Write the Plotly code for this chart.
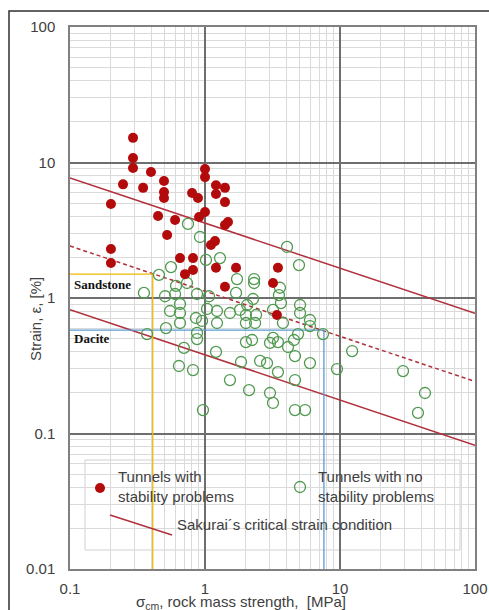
import plotly.graph_objects as go

# ---------------- data ----------------
red_x = [0.293, 0.293, 0.293, 0.398, 0.247, 0.348, 0.497, 0.497, 0.497, 0.201,
         0.802, 0.887, 1.0, 1.0, 1.206, 1.406, 1.206, 1.406, 0.449, 0.600,
         0.904, 1.0, 1.48, 1.406, 0.524, 1.107, 1.186, 0.201, 0.201, 0.653,
         0.815, 0.815, 0.711, 1.206, 1.698, 1.406, 3.47, 3.19, 3.41]
red_y = [15.2, 10.8, 9.1, 8.5, 6.9, 6.5, 7.3, 6.06, 5.47, 4.94,
         5.96, 5.47, 8.95, 7.8, 6.8, 6.5, 5.86, 5.1, 4.03, 3.76,
         3.96, 4.31, 3.64, 3.46, 2.92, 2.46, 2.63, 2.30, 1.81, 1.97,
         1.97, 1.61, 1.50, 1.67, 1.67, 1.21, 1.67, 1.29, 0.75]

green_x = [0.748, 0.918, 1.017, 1.291, 0.560, 0.456, 0.610, 0.600, 0.736, 0.353,
           0.506, 0.873, 1.071, 1.726, 1.698, 0.653, 0.551, 0.653, 0.857, 1.035,
           1.227, 1.531, 1.816, 2.05, 0.653, 0.951, 1.227, 0.514, 0.873, 0.372,
           0.873, 2.01, 0.698, 1.206, 1.849, 0.641, 0.815, 1.531, 4.05, 4.97,
           2.31, 2.31, 3.59, 2.27, 2.01, 2.39, 2.01, 2.35, 3.53, 3.65,
           5.06, 5.06, 3.19, 5.99, 5.99, 3.78, 2.23, 3.19, 3.03, 3.47,
           4.89, 4.56, 4.12, 4.64, 7.48, 12.3, 2.56, 2.88, 5.99, 3.47,
           9.50, 29.3, 2.12, 3.03, 3.19, 4.64, 4.64, 5.51, 0.966, 42.6, 37.8]
green_y = [3.52, 2.82, 1.91, 1.97, 1.69, 1.48, 1.23, 1.07, 1.29, 1.09,
           1.03, 1.07, 1.03, 1.38, 1.09, 0.903, 0.802, 0.775, 0.712, 0.83,
           0.802, 0.775, 0.816, 0.888, 0.654, 0.677, 0.654, 0.600, 0.552, 0.542,
           0.498, 0.473, 0.428, 0.400, 0.337, 0.315, 0.294, 0.248, 2.38, 1.75,
           1.38, 1.29, 1.19, 0.983, 0.749, 0.749, 0.654, 0.654, 1.05, 0.918,
           0.888, 0.775, 0.816, 0.688, 0.621, 0.654, 0.490, 0.507, 0.466, 0.473,
           0.542, 0.490, 0.435, 0.373, 0.542, 0.406, 0.343, 0.331, 0.331, 0.284,
           0.299, 0.289, 0.209, 0.199, 0.168, 0.248, 0.149, 0.149, 0.149, 0.199, 0.142]

# Sakurai critical strain lines (end points)
sak_x = [0.1, 100]
sak_upper = [7.7, 0.77]
sak_mid = [2.42, 0.242]
sak_lower = [0.82, 0.082]

# Sandstone / Dacite guide lines
sand_x = [0.1, 0.41, 0.41]
sand_y = [1.5, 1.5, 0.01]
dac_x = [0.1, 7.6, 7.6]
dac_y = [0.58, 0.58, 0.01]

x_ticks = [0.1, 1, 10, 100]
x_tick_text = ["0.1", "1", "10", "100"]
y_ticks = [0.01, 0.1, 1, 10, 100]
y_tick_text = ["0.01", "0.1", "1", "10", "100"]

minor_x = [m * d for d in [0.1, 1, 10] for m in range(2, 10)]
minor_y = [m * d for d in [0.01, 0.1, 1, 10] for m in range(2, 10)]

# ---------------- figure ----------------
W, H = 489, 610
L, R, T, B = 70, 14, 27, 41
PW, PH = W - L - R, H - T - B

def px(xp):
    return (xp - L) / PW

def py(yp):
    return (H - B - yp) / PH

FONT = "Arial, Liberation Sans, sans-serif"
TXT = "#404040"
LINE_RED = "#b0303c"

fig = go.Figure()

fig.add_trace(go.Scatter(x=sak_x, y=sak_upper, mode="lines",
                         line=dict(color=LINE_RED, width=1.5), showlegend=False))
fig.add_trace(go.Scatter(x=sak_x, y=sak_mid, mode="lines",
                         line=dict(color=LINE_RED, width=1.5, dash="4px,3px"), showlegend=False))
fig.add_trace(go.Scatter(x=sak_x, y=sak_lower, mode="lines",
                         line=dict(color=LINE_RED, width=1.5), showlegend=False))
fig.add_trace(go.Scatter(x=sand_x, y=sand_y, mode="lines",
                         line=dict(color="#f2b705", width=1.3), showlegend=False))
fig.add_trace(go.Scatter(x=dac_x, y=dac_y, mode="lines",
                         line=dict(color="#5b9bd5", width=1.3), showlegend=False))
fig.add_trace(go.Scatter(x=green_x, y=green_y, mode="markers",
                         marker=dict(symbol="circle-open", size=11, color="#4f9a4f",
                                     line=dict(width=1.3, color="#4f9a4f")),
                         showlegend=False))
fig.add_trace(go.Scatter(x=red_x, y=red_y, mode="markers",
                         marker=dict(symbol="circle", size=10, color="#b30b0b",
                                     line=dict(width=0)),
                         showlegend=False))

axis_common = dict(
    type="log", showline=True, mirror=True, linecolor="#808080", linewidth=1.5,
    showgrid=True, gridcolor="#6e6e6e", gridwidth=1.5, zeroline=False,
    ticks="", tickfont=dict(family=FONT, size=15, color=TXT),
)
fig.update_xaxes(range=[-1, 2], tickvals=x_ticks, ticktext=x_tick_text,
                 ticklabelstandoff=5,
                 minor=dict(tickvals=minor_x, showgrid=True, gridcolor="#dadada",
                            gridwidth=1, ticks=""),
                 **axis_common)
fig.update_yaxes(range=[-2, 2], tickvals=y_ticks, ticktext=y_tick_text,
                 ticklabelstandoff=10,
                 minor=dict(tickvals=minor_y, showgrid=True, gridcolor="#dadada",
                            gridwidth=1, ticks=""),
                 **axis_common)

shapes = [
    # outer frame
    dict(type="rect", xref="paper", yref="paper", x0=px(9), x1=px(500),
         y0=py(640), y1=py(11), line=dict(color="#303030", width=1.5), layer="above"),
    # legend box
    dict(type="rect", xref="paper", yref="paper", x0=px(85), x1=px(460),
         y0=py(550), y1=py(460), line=dict(color="#d0d0d0", width=1),
         fillcolor="rgba(255,255,255,0.85)", layer="between"),
    # legend symbols
    dict(type="circle", xref="paper", yref="paper", xsizemode="pixel", ysizemode="pixel",
         xanchor=px(100), yanchor=py(488), x0=-5, x1=5, y0=-5, y1=5,
         fillcolor="#b30b0b", line=dict(width=0), layer="above"),
    dict(type="circle", xref="paper", yref="paper", xsizemode="pixel", ysizemode="pixel",
         xanchor=px(300), yanchor=py(487), x0=-5.5, x1=5.5, y0=-5.5, y1=5.5,
         fillcolor="rgba(0,0,0,0)", line=dict(width=1.3, color="#4f9a4f"), layer="above"),
    dict(type="line", xref="paper", yref="paper", x0=px(110), y0=py(515),
         x1=px(172), y1=py(535), line=dict(color=LINE_RED, width=1.5), layer="above"),
]

ann_font = dict(family=FONT, size=15, color=TXT)
annotations = [
    dict(x=px(116), y=py(486), xref="paper", yref="paper", xanchor="left", yanchor="middle",
         text="Tunnels with<br>stability problems", align="left", showarrow=False, font=ann_font),
    dict(x=px(316), y=py(486), xref="paper", yref="paper", xanchor="left", yanchor="middle",
         text="Tunnels with no<br>stability problems", align="left", showarrow=False, font=ann_font),
    dict(x=px(175), y=py(524), xref="paper", yref="paper", xanchor="left", yanchor="middle",
         text="Sakurai´s critical strain condition", showarrow=False, font=ann_font),
    dict(x=px(72), y=py(284), xref="paper", yref="paper", xanchor="left", yanchor="middle",
         text="<b>Sandstone</b>", showarrow=False,
         font=dict(family="Liberation Serif, Times New Roman, serif", size=13, color="#111")),
    dict(x=px(72), y=py(338), xref="paper", yref="paper", xanchor="left", yanchor="middle",
         text="<b>Dacite</b>", showarrow=False,
         font=dict(family="Liberation Serif, Times New Roman, serif", size=13, color="#111")),
    dict(x=px(35), y=py(319), xref="paper", yref="paper", xanchor="center", yanchor="middle",
         text="Strain, ε, [%]", textangle=-90, showarrow=False, font=ann_font),
    dict(x=px(241), y=py(591), xref="paper", yref="paper", xanchor="center", yanchor="top",
         text="σ<sub>cm</sub>, rock mass strength,  [MPa]", showarrow=False, font=ann_font),
]

fig.update_layout(
    width=W, height=H, margin=dict(l=L, r=R, t=T, b=B, autoexpand=False),
    paper_bgcolor="white", plot_bgcolor="white",
    shapes=shapes, annotations=annotations, showlegend=False,
)

fig.write_html("out.html")
